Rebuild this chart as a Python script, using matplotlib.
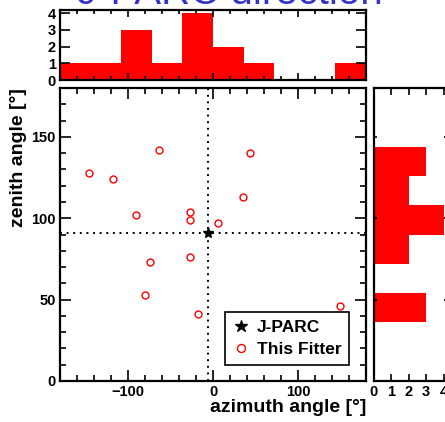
import numpy as np
import matplotlib.pyplot as plt
from matplotlib.ticker import MultipleLocator, NullFormatter

plt.rcParams['font.family'] = ['Liberation Sans', 'DejaVu Sans']
plt.rcParams['font.weight'] = 'bold'
plt.rcParams['axes.labelweight'] = 'bold'

# reconstructed directions from the fitter (degrees)
azimuth = [-146, -118, -91, -63, -27, -27, 6, 35, 44, -74, -27, -80, -18, 149]
zenith = [128, 124, 102, 142, 104, 99, 97, 113, 140, 73, 76, 53, 41, 46]

# beam direction
jparc_azimuth = -6
jparc_zenith = 91

az_bins = np.arange(-180, 181, 36)
zen_bins = np.arange(0, 181, 18)

W, H = 445, 422
fig = plt.figure(figsize=(W / 100, H / 100), dpi=100)


def box(left, top, right, bottom):
    # pixel box -> figure fraction
    return [left / W, 1 - bottom / H, (right - left) / W, (bottom - top) / H]


ax = fig.add_axes(box(60, 88, 366, 381))
ax_top = fig.add_axes(box(60, 10, 366, 80))
ax_right = fig.add_axes(box(374, 88, 447, 381))

red = '#ff0000'

# scatter plot
ax.axvline(jparc_azimuth, color='black', lw=1.4, dashes=(1, 2.4), zorder=1)
ax.axhline(jparc_zenith, color='black', lw=1.4, dashes=(1, 2.4), zorder=1)
ax.plot(jparc_azimuth, jparc_zenith, '*', color='black', ms=8, zorder=4, label='J-PARC')
ax.plot(azimuth, zenith, 'o', mfc='none', mec=red, mew=1.0, ms=5, ls='none', zorder=3,
        label='This Fitter')
ax.set_xlim(-180, 180)
ax.set_ylim(0, 180)
ax.xaxis.set_major_locator(MultipleLocator(100))
ax.xaxis.set_minor_locator(MultipleLocator(20))
ax.yaxis.set_major_locator(MultipleLocator(50))
ax.yaxis.set_minor_locator(MultipleLocator(10))
ax.set_xlabel('azimuth angle [°]', fontsize=14, loc='right')
ax.set_ylabel('zenith angle [°]', fontsize=14, loc='top')
ax.xaxis.set_label_coords(1.0, -0.062)
ax.yaxis.set_label_coords(-0.108, 1.0)

leg = ax.legend(loc='lower left', bbox_to_anchor=(0.539, 0.055), fontsize=12.5,
                fancybox=False, edgecolor='black', framealpha=1, borderpad=0.45,
                labelspacing=0.4, handlelength=1.0, handletextpad=0.4, borderaxespad=0,
                markerscale=1.15)
leg.get_frame().set_linewidth(1.2)

# azimuth projection
ax_top.hist(azimuth, bins=az_bins, histtype='stepfilled', color=red, lw=0)
ax_top.set_xlim(-180, 180)
ax_top.set_ylim(0, 4.2)
ax_top.xaxis.set_major_locator(MultipleLocator(100))
ax_top.xaxis.set_minor_locator(MultipleLocator(20))
ax_top.xaxis.set_major_formatter(NullFormatter())
ax_top.yaxis.set_major_locator(MultipleLocator(1))

# zenith projection
ax_right.hist(zenith, bins=zen_bins, histtype='stepfilled', color=red, lw=0,
              orientation='horizontal')
ax_right.set_xlim(0, 4.2)
ax_right.set_ylim(0, 180)
ax_right.xaxis.set_major_locator(MultipleLocator(1))
ax_right.yaxis.set_major_locator(MultipleLocator(50))
ax_right.yaxis.set_major_formatter(NullFormatter())

for a in (ax, ax_top, ax_right):
    for s in a.spines.values():
        s.set_linewidth(1.6)
    a.tick_params(which='both', direction='in', top=True, right=True, width=1.2,
                  labelsize=10.5, pad=3)

ax.tick_params(which='major', length=8)
ax.tick_params(which='minor', length=4)
ax_top.tick_params(axis='y', which='major', length=7)
ax_top.tick_params(axis='x', which='major', length=5)
ax_top.tick_params(axis='x', which='minor', length=3)
ax_right.tick_params(axis='x', which='major', length=5)
ax_right.tick_params(axis='y', which='major', length=2.5)

fig.text(230 / W, 1 - 4 / H, 'J-PARC direction', color='#3333cc', fontsize=29,
         fontweight='normal', ha='center', va='baseline')

fig.savefig('out.png', dpi=100)
